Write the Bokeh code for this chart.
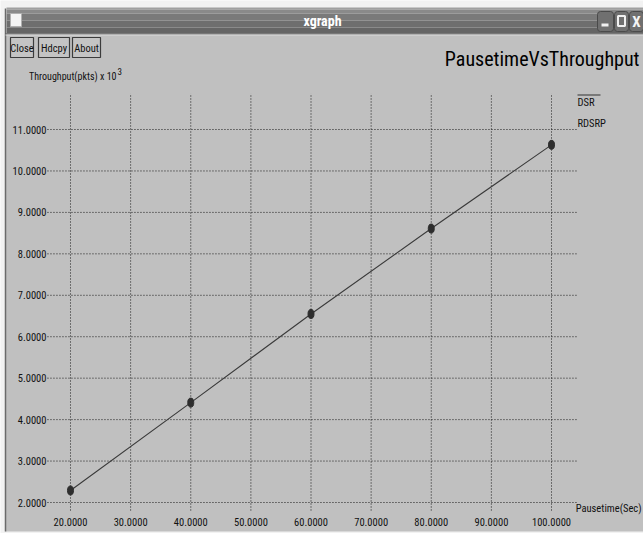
from bokeh.plotting import figure
from bokeh.models import Range1d
from bokeh.core.properties import value
from bokeh.embed import file_html
from bokeh.resources import INLINE

# ---- data --------------------------------------------------------------
pausetime = [20, 40, 60, 80, 100]
throughput = [2.29, 4.41, 6.55, 8.61, 10.63]          # pkts x 10^3

x_ticks = [20, 30, 40, 50, 60, 70, 80, 90, 100]
y_ticks = [2, 3, 4, 5, 6, 7, 8, 9, 10, 11]
x_tick_labels = ["%.4f" % t for t in x_ticks]
y_tick_labels = ["%.4f" % t for t in y_ticks]

legend_names = ["DSR", "RDSRP"]
title_text = "PausetimeVsThroughput"
x_label = "Pausetime(Sec)"
y_label = "Throughput(pkts) x 10"

# ---- page geometry -----------------------------------------------------
W, H = 643, 533
NARROW = value("Roboto Condensed")

# data window of the plotting region (grid extent)
GX0, GX1 = 16.17, 104.16
GY0, GY1 = 1.807, 11.87

# data ranges that cover the whole canvas
DX = Range1d(8.358, 115.30)
DY = Range1d(1.252, 14.113)

p = figure(width=W, height=H, output_backend="svg", toolbar_location=None,
           x_range=Range1d(0, W), y_range=Range1d(H, 0),
           x_axis_type=None, y_axis_type=None, min_border=0,
           outline_line_color=None, background_fill_color="#f2f2f2",
           border_fill_color="#f2f2f2")
p.grid.visible = False
p.extra_x_ranges = {"d": DX}
p.extra_y_ranges = {"d": DY}

# ---- window chrome (pixel coordinates) ---------------------------------
p.quad(left=[5], right=[W], top=[33], bottom=[531], fill_color="#c0c0c0",
       line_color=None)
p.segment(x0=[5], y0=[8], x1=[5], y1=[531], line_color="#6a6a6a", line_width=1.5)
# title bar with a soft vertical shading
bands = [(7, 9, "#a0a0a0"), (9, 13, "#8a8a8a"), (13, 20, "#7a7a7a"),
         (20, 27, "#6e6e6e"), (27, 33, "#656565")]
for t, b, c in bands:
    p.quad(left=[6], right=[W], top=[t], bottom=[b], fill_color=c, line_color=None)
p.segment(x0=[5], y0=[33.5], x1=[W], y1=[33.5], line_color="#505050", line_width=1)
p.segment(x0=[5], y0=[34.5], x1=[W], y1=[34.5], line_color="#dcdcdc", line_width=1)
# window icon
p.quad(left=[10], right=[21], top=[13], bottom=[26], fill_color="#f4f4f4",
       line_color="#b0b0b0")
p.text(x=[322], y=[20], text=["xgraph"], text_font=NARROW,
       text_font_style="bold", text_font_size="14px", text_color="#ffffff",
       text_align="center", text_baseline="middle")
# window control buttons
for l, r in [(597, 613), (614, 628), (629, 643)]:
    p.quad(left=[l], right=[r], top=[11], bottom=[31], fill_color="#707070",
           line_color="#4a4a4a", border_radius=3)
p.quad(left=[601], right=[608], top=[23], bottom=[26], fill_color="#f0f0f0",
       line_color=None)
p.quad(left=[617.5], right=[624.5], top=[15.5], bottom=[25.5], fill_color=None,
       line_color="#f0f0f0", line_width=2)
p.text(x=[636], y=[21], text=["X"], text_font=NARROW,
       text_font_style="bold", text_font_size="15px", text_color="#f4f4f4",
       text_align="center", text_baseline="middle")

# command buttons
buttons = [("Close", 10, 33), ("Hdcpy", 38, 69), ("About", 72, 100)]
for name, l, r in buttons:
    p.quad(left=[l], right=[r], top=[37], bottom=[57], fill_color="#c4c4c4",
           line_color="#3c3c3c", line_width=1.2)
    p.text(x=[(l + r) / 2], y=[47.5], text=[name], text_font=NARROW,
           text_font_size="10.5px", text_color="#111111", text_align="center",
           text_baseline="middle")

# ---- titles and labels -------------------------------------------------
p.text(x=[639], y=[58], text=[title_text], text_font=NARROW,
       text_font_size="20px", text_color="#000000", text_align="right",
       text_baseline="middle")
p.text(x=[116], y=[76], text=[y_label], text_font=NARROW, text_font_size="10px",
       text_color="#111111", text_align="right", text_baseline="middle")
p.text(x=[117], y=[71], text=["3"], text_font=NARROW, text_font_size="9px",
       text_color="#111111", text_align="left", text_baseline="middle")
p.text(x=[641], y=[508], text=[x_label], text_font=NARROW, text_font_size="10.5px",
       text_color="#111111", text_align="right", text_baseline="middle")

# legend
p.segment(x0=[577], y0=[94.5], x1=[600], y1=[94.5], line_color="#333333",
          line_width=1)
p.text(x=[577, 577], y=[102, 123], text=legend_names, text_font=NARROW,
       text_font_size="10.5px", text_color="#111111", text_align="left",
       text_baseline="middle")

# ---- grid and tick labels (data coordinates) ---------------------------
dotted = dict(line_color="#1a1a1a", line_width=1, line_dash="1 2",
              x_range_name="d", y_range_name="d")
p.segment(x0=[GX0] * len(y_ticks), x1=[GX1] * len(y_ticks), y0=y_ticks,
          y1=y_ticks, **dotted)
p.segment(x0=x_ticks, x1=x_ticks, y0=[GY0] * len(x_ticks),
          y1=[GY1] * len(x_ticks), **dotted)

p.text(x=[GX0] * len(y_ticks), y=y_ticks, text=y_tick_labels, x_offset=-1,
       text_font=NARROW, text_font_size="10.5px", text_color="#111111",
       text_align="right", text_baseline="middle",
       x_range_name="d", y_range_name="d")
p.text(x=x_ticks, y=[GY0] * len(x_ticks), text=x_tick_labels, y_offset=12,
       text_font=NARROW, text_font_size="10.5px", text_color="#111111",
       text_align="center", text_baseline="middle",
       x_range_name="d", y_range_name="d")

# ---- series ------------------------------------------------------------
p.line(pausetime, throughput, line_color="#3a3a3a", line_width=1.1,
       x_range_name="d", y_range_name="d")
p.ellipse(x=pausetime, y=throughput, width=6, height=9, width_units="screen",
          height_units="screen", fill_color="#2e2e2e", line_color="#2e2e2e",
          x_range_name="d", y_range_name="d")

open("out.html", "w").write(file_html(p, INLINE))
